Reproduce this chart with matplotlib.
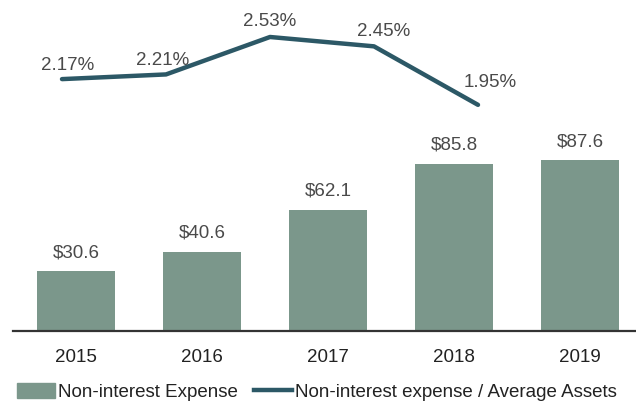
import matplotlib
matplotlib.use("Agg")
import matplotlib.pyplot as plt
from matplotlib.patches import Rectangle
from matplotlib.lines import Line2D

years = ["2015", "2016", "2017", "2018", "2019"]
expense = [30.6, 40.6, 62.1, 85.8, 87.6]
ratio = [2.17, 2.21, 2.53, 2.45, 1.95]
expense_labels = ["$30.6", "$40.6", "$62.1", "$85.8", "$87.6"]
ratio_labels = ["2.17%", "2.21%", "2.53%", "2.45%", "1.95%"]

BAR_COLOR = "#7b978b"
LINE_COLOR = "#2c5866"
TEXT_COLOR = "#4a4a4a"

plt.rcParams["font.family"] = ["Liberation Sans", "DejaVu Sans"]
FS = 13.5

W, H = 636, 405
fig = plt.figure(figsize=(W / 100, H / 100), dpi=100)
fig.patch.set_facecolor("white")

# bar axes: baseline at y=331px, 126px between bars
ax = fig.add_axes([13 / W, 74 / H, 623 / W, 195 / H])
x = list(range(len(years)))
ax.bar(x, expense, width=0.62, color=BAR_COLOR)
ax.set_xlim(-0.5, -0.5 + 623 / 126)
ax.set_ylim(0, 100)
for xi, v, lab in zip(x, expense, expense_labels):
    ax.annotate(lab, (xi, v), xytext=(0, 10), textcoords="offset pixels",
                ha="center", va="bottom", fontsize=FS, color=TEXT_COLOR)
ax.set_xticks(x)
ax.set_xticklabels(years, fontsize=FS, color="#222222")
ax.tick_params(axis="x", length=0, pad=13)
ax.set_yticks([])
for s in ["top", "right", "left"]:
    ax.spines[s].set_visible(False)
ax.spines["bottom"].set_color("#333333")
ax.spines["bottom"].set_linewidth(1.6)

# line axes: full-figure overlay with its own x spacing
ax2 = fig.add_axes([0, 0, 1, 1])
ax2.set_xlim(-62 / 104, (W - 62) / 104)
ax2.set_ylim(-72 / 117, (H - 72) / 117)
ax2.axis("off")
ax2.plot(x, ratio, color=LINE_COLOR, linewidth=3.2,
         solid_capstyle="round", solid_joinstyle="round")
offsets = [(6, 14), (-3, 14), (0, 15), (10, 15), (12, 22)]
for xi, v, lab, off in zip(x, ratio, ratio_labels, offsets):
    ax2.annotate(lab, (xi, v), xytext=off, textcoords="offset pixels",
                 ha="center", va="center", fontsize=FS, color=TEXT_COLOR)

handles = [Rectangle((0, 0), 1, 1, color=BAR_COLOR),
           Line2D([0], [0], color=LINE_COLOR, linewidth=3.2)]
fig.legend(handles, ["Non-interest Expense",
                     "Non-interest expense / Average Assets"],
           loc="center left", bbox_to_anchor=(17 / W, 1 - 392 / H),
           ncol=2, frameon=False, fontsize=FS, handlelength=2.0,
           handleheight=0.9, handletextpad=0.16, columnspacing=0.9,
           borderaxespad=0, borderpad=0, labelcolor="#222222")

fig.savefig("out.png", dpi=100)
